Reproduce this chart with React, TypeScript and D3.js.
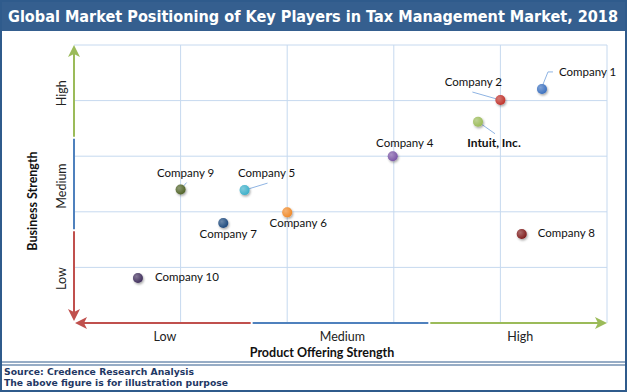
import React from "react";
import * as d3 from "d3";

const companies = ["Company 1", "Company 2", "Intuit, Inc.", "Company 4", "Company 5", "Company 6", "Company 7", "Company 8", "Company 9", "Company 10"];
const productStrength = [4.39, 4.0, 3.79, 2.99, 1.6, 2.0, 1.4, 4.2, 1.0, 0.6];
const businessStrength = [4.21, 4.01, 3.62, 3.0, 2.39, 1.99, 1.8, 1.6, 2.4, 0.81];
const levelLabels = ["Low", "Medium", "High"];

// styling / label layout (not data)
const pointColors = ["#3a6fbf", "#c0302c", "#9bbb59", "#7a55a5", "#3aafc9", "#f08a2a", "#1f497d", "#7f1a1a", "#4f6228", "#3f2f5c"];
const labelDx = [17, -27, 16, 12, 22, 11, 5, 16, 5, 17];
const labelDy = [-13, -14, 25, -9, -13, 15, 15, 3, -13, 3];
const labelAnchor = ["start", "middle", "middle", "middle", "middle", "middle", "middle", "start", "middle", "start"];
const leaders: (number[][] | null)[] = [
  [[0, -2], [6, -17], [11, -17]],
  [[-28, -8], [0, 0]],
  [[0, 0], [17, 12]],
  null,
  [[0, 0], [23, -7]],
  null,
  null,
  null,
  [[0, 0], [6, -7]],
  null,
];
const axisColors = ["#c0504d", "#4f81bd", "#9bbb59"];

export default function App() {
  const W = 627, H = 392;
  const left = 74, right = 607, top = 45, bottom = 323;
  const x = d3.scaleLinear().domain([0, 5]).range([left, right]);
  const y = d3.scaleLinear().domain([0, 5]).range([bottom, top]);
  const xThird = d3.scaleLinear().domain([0, 3]).range([left, right]);
  const yThird = d3.scaleLinear().domain([0, 3]).range([bottom, top]);
  const ticks = d3.range(1, 6);
  const labelFont = "Lato, 'Open Sans', sans-serif";

  return (
    <svg width={W} height={H} style={{ position: "absolute", left: 0, top: 0 }} xmlns="http://www.w3.org/2000/svg">
      <defs>
        <filter id="sh" x="-50%" y="-50%" width="200%" height="200%">
          <feDropShadow dx="1" dy="1.5" stdDeviation="1" floodColor="#000" floodOpacity="0.35" />
        </filter>
        <radialGradient id="gl" cx="35%" cy="35%" r="70%">
          <stop offset="0%" stopColor="#fff" stopOpacity="0.35" />
          <stop offset="100%" stopColor="#fff" stopOpacity="0" />
        </radialGradient>
      </defs>
      <rect x={0} y={0} width={W} height={H} fill="#fff" />
      {/* title bar */}
      <rect x={0} y={0} width={W} height={31} fill="#355f8f" />
      <text x={8} y={22} fill="#fff" fontFamily="'DejaVu Sans', Verdana, sans-serif" fontWeight="bold" fontSize={15.5} textLength={610} lengthAdjust="spacingAndGlyphs">
        Global Market Positioning of Key Players in Tax Management Market, 2018
      </text>
      {/* outer border */}
      <rect x={1} y={1} width={W - 2} height={H - 2} fill="none" stroke="#2f5b8c" strokeWidth={2} />
      {/* gridlines */}
      {ticks.map((t) => (
        <line key={"gx" + t} x1={x(t)} x2={x(t)} y1={top} y2={bottom} stroke="#c6d9ef" strokeWidth={1} />
      ))}
      {ticks.map((t) => (
        <line key={"gy" + t} x1={left} x2={right} y1={y(t)} y2={y(t)} stroke="#c6d9ef" strokeWidth={1} />
      ))}
      {/* axes: three colored segments */}
      {[0, 1, 2].map((i) => (
        <line key={"xa" + i} x1={xThird(i) + (i === 0 ? 4 : 1)} x2={xThird(i + 1) - (i === 2 ? 8 : 1)} y1={bottom} y2={bottom} stroke={axisColors[i]} strokeWidth={2} />
      ))}
      {[0, 1, 2].map((i) => (
        <line key={"ya" + i} x1={left} x2={left} y1={yThird(i) - (i === 0 ? 8 : 1)} y2={yThird(i + 1) + (i === 2 ? 8 : 1)} stroke={axisColors[i]} strokeWidth={2} />
      ))}
      {/* arrowheads */}
      <path d={`M${right},${bottom} L${right - 12},${bottom - 6} L${right - 9},${bottom} L${right - 12},${bottom + 6} Z`} fill={axisColors[2]} />
      <path d={`M${left},${top} L${left - 6},${top + 12} L${left},${top + 9} L${left + 6},${top + 12} Z`} fill={axisColors[2]} />
      <path d={`M${left + 1},${bottom} L${left + 13},${bottom - 6} L${left + 10},${bottom} L${left + 13},${bottom + 6} Z`} fill={axisColors[0]} />
      <path d={`M${left},${bottom - 2} L${left - 6},${bottom - 14} L${left},${bottom - 11} L${left + 6},${bottom - 14} Z`} fill={axisColors[0]} />
      {/* level labels */}
      {levelLabels.map((l, i) => (
        <text key={"xl" + i} x={xThird(i + 0.5) + 2} y={341} textAnchor="middle" fontFamily={labelFont} fontSize={12.5} fill="#222">{l}</text>
      ))}
      {levelLabels.map((l, i) => (
        <text key={"yl" + i} transform={`translate(66,${yThird(i + 0.5) + 2}) rotate(-90)`} textAnchor="middle" fontFamily={labelFont} fontSize={12.5} fill="#222">{l}</text>
      ))}
      <text x={322} y={357} textAnchor="middle" fontFamily={labelFont} fontWeight="bold" fontSize={12.5} fill="#111">Product Offering Strength</text>
      <text transform={`translate(37,${(top + bottom) / 2 + 17}) rotate(-90)`} textAnchor="middle" fontFamily={labelFont} fontWeight="bold" fontSize={12.5} fill="#111">Business Strength</text>
      {/* leader lines */}
      {companies.map((c, i) => {
        const L = leaders[i];
        if (!L) return null;
        const px = x(productStrength[i]), py = y(businessStrength[i]);
        const pts = L.map((p) => [px + p[0], py + p[1]] as [number, number]);
        return <path key={"ld" + i} d={d3.line()(pts) || ""} fill="none" stroke="#8fb4e3" strokeWidth={1} />;
      })}
      {/* points */}
      {companies.map((c, i) => (
        <g key={"pt" + i}>
          <circle cx={x(productStrength[i])} cy={y(businessStrength[i])} r={5} fill={pointColors[i]} filter="url(#sh)" />
          <circle cx={x(productStrength[i])} cy={y(businessStrength[i])} r={5} fill="url(#gl)" />
        </g>
      ))}
      {/* labels */}
      {companies.map((c, i) => (
        <text key={"lb" + i} x={x(productStrength[i]) + labelDx[i]} y={y(businessStrength[i]) + labelDy[i]} textAnchor={labelAnchor[i] as any}
          fontFamily={labelFont} fontSize={i === 2 ? 12 : 11.5} fontWeight={i === 2 ? "bold" : "normal"} fill="#111">{c}</text>
      ))}
      {/* footer */}
      <line x1={1} x2={W - 1} y1={362} y2={362} stroke="#2f5b8c" strokeWidth={1} />
      <line x1={1} x2={W - 1} y1={365} y2={365} stroke="#2f5b8c" strokeWidth={1} />
      <text x={4} y={375} fill="#1f3864" fontFamily="'DejaVu Sans', Verdana, sans-serif" fontWeight="bold" fontSize={9.5} textLength={190} lengthAdjust="spacingAndGlyphs">Source: Credence Research Analysis</text>
      <text x={4} y={386} fill="#1f3864" fontFamily="'DejaVu Sans', Verdana, sans-serif" fontWeight="bold" fontSize={9.5} textLength={224} lengthAdjust="spacingAndGlyphs">The above figure is for illustration purpose</text>
    </svg>
  );
}
